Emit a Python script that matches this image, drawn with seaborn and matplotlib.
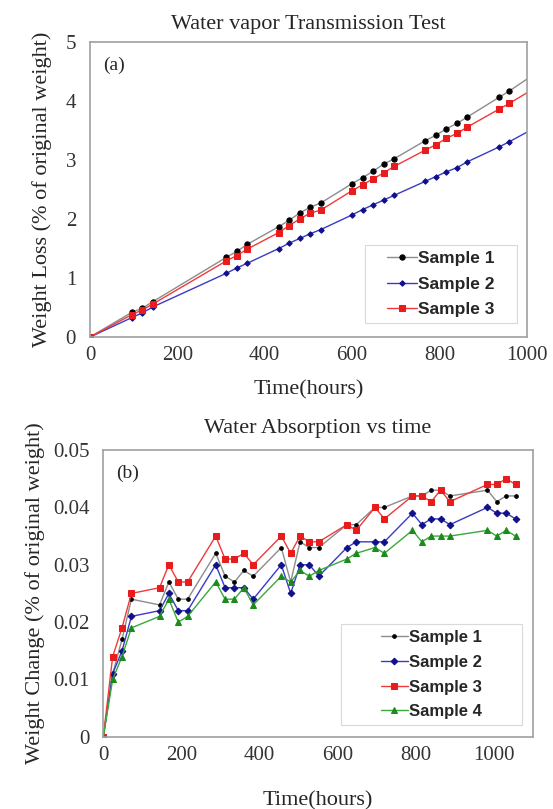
import pandas as pd
import matplotlib.pyplot as plt
import seaborn as sns

# (a) water vapour transmission, weight loss (% of original weight)
hours_a = [0, 96, 120, 144, 312, 336, 360, 432, 456, 480, 504, 528,
           600, 624, 648, 672, 696, 768, 792, 816, 840, 864, 936, 960, 1032]
loss_s1 = [0, 0.42, 0.49, 0.60, 1.35, 1.45, 1.57, 1.87, 1.98, 2.10, 2.20, 2.27,
           2.60, 2.70, 2.81, 2.93, 3.02, 3.33, 3.42, 3.53, 3.62, 3.73, 4.06, 4.17, 4.53]
loss_s2 = [0, 0.33, 0.41, 0.51, 1.08, 1.17, 1.25, 1.50, 1.59, 1.67, 1.75, 1.82,
           2.07, 2.16, 2.24, 2.32, 2.40, 2.64, 2.72, 2.80, 2.87, 2.97, 3.22, 3.31, 3.60]
loss_s3 = [0, 0.38, 0.46, 0.56, 1.29, 1.38, 1.49, 1.77, 1.89, 2.00, 2.10, 2.15,
           2.48, 2.58, 2.68, 2.78, 2.89, 3.17, 3.26, 3.37, 3.45, 3.56, 3.86, 3.96, 4.28]

# (b) water absorption, weight change (% of original weight)
hours_b = [0, 24, 48, 72, 144, 168, 192, 216, 288, 312, 336, 360, 384, 456, 480,
           504, 528, 552, 624, 648, 696, 720, 792, 816, 840, 864, 888, 984, 1008, 1032, 1056]
abs_s1 = [0, 0.011, 0.017, 0.024, 0.023, 0.027, 0.024, 0.024, 0.032, 0.028, 0.027,
          0.029, 0.028, 0.033, 0.027, 0.034, 0.033, 0.033, 0.037, 0.037, 0.040, 0.040,
          0.042, 0.042, 0.043, 0.043, 0.042, 0.043, 0.041, 0.042, 0.042]
abs_s2 = [0, 0.011, 0.015, 0.021, 0.022, 0.025, 0.022, 0.022, 0.030, 0.026, 0.026,
          0.026, 0.024, 0.030, 0.025, 0.030, 0.030, 0.028, 0.033, 0.034, 0.034, 0.034,
          0.039, 0.037, 0.038, 0.038, 0.037, 0.040, 0.039, 0.039, 0.038]
abs_s3 = [0, 0.014, 0.019, 0.025, 0.026, 0.030, 0.027, 0.027, 0.035, 0.031, 0.031,
          0.032, 0.030, 0.035, 0.032, 0.035, 0.034, 0.034, 0.037, 0.036, 0.040, 0.038,
          0.042, 0.042, 0.041, 0.043, 0.041, 0.044, 0.044, 0.045, 0.044]
abs_s4 = [0, 0.010, 0.014, 0.019, 0.021, 0.024, 0.020, 0.021, 0.027, 0.024, 0.024,
          0.026, 0.023, 0.028, 0.027, 0.029, 0.028, 0.029, 0.031, 0.032, 0.033, 0.032,
          0.036, 0.034, 0.035, 0.035, 0.035, 0.036, 0.035, 0.036, 0.035]

sns.set_style("white")
plt.rcParams["font.family"] = ["Liberation Serif", "DejaVu Serif"]

fig = plt.figure(figsize=(5.53, 8.09), dpi=100)
ax1 = fig.add_axes([0.1627, 0.5834, 0.790, 0.3647])
ax2 = fig.add_axes([0.1868, 0.0892, 0.7765, 0.3545])

# styles: (label, values, line colour, marker, marker colour, marker size)
styles_a = [("Sample 1", loss_s1, "#8c8c8c", "o", "black", 3.8),
            ("Sample 2", loss_s2, "#3a3ac8", "D", "#10108a", 2.8),
            ("Sample 3", loss_s3, "#f03a3a", "s", "#e81c1c", 3.8)]
for label, vals, lc, mk, mc, ms in styles_a:
    sns.lineplot(x=hours_a, y=vals, ax=ax1, color=lc, lw=1.0, marker=mk,
                 markersize=ms, markerfacecolor=mc, markeredgecolor=mc,
                 label=label)

styles_b = [("Sample 1", abs_s1, "#8c8c8c", "o", "black", 2.6),
            ("Sample 2", abs_s2, "#3a3ac8", "D", "#10108a", 3.4),
            ("Sample 3", abs_s3, "#f03a3a", "s", "#e81c1c", 4.3),
            ("Sample 4", abs_s4, "#3aa83a", "^", "#1d8a1d", 4.0)]
for label, vals, lc, mk, mc, ms in styles_b:
    sns.lineplot(x=hours_b, y=vals, ax=ax2, color=lc, lw=1.0, marker=mk,
                 markersize=ms, markerfacecolor=mc, markeredgecolor=mc,
                 label=label)

# axes (a)
ax1.set_xlim(0, 1000)
ax1.set_ylim(0, 5)
ax1.set_xticks([0, 200, 400, 600, 800, 1000])
ax1.set_yticks([0, 1, 2, 3, 4, 5])
ax1.set_title("Water vapor Transmission Test", fontsize=16, pad=9)
ax1.set_xlabel("Time(hours)", fontsize=16, labelpad=11)
ax1.set_ylabel("Weight Loss (% of original weight)", fontsize=16, labelpad=10)
ax1.text(0.03, 0.95, "(a)", transform=ax1.transAxes, fontsize=14, va="top")
leg1 = ax1.legend(loc="lower right", bbox_to_anchor=(0.9405, 0.0475),
                  prop={"family": "Liberation Sans", "weight": "bold", "size": 12.5},
                  frameon=True, fancybox=False, handlelength=1.7, handletextpad=0.1,
                  borderaxespad=0, labelspacing=0.58, borderpad=0.35)
leg1.get_frame().set_boxstyle("square", pad=0.92)
leg1.get_frame().set_mutation_aspect(0.01)

# axes (b)
ax2.set_xlim(0, 1100)
ax2.set_ylim(0, 0.05)
ax2.set_xticks([0, 200, 400, 600, 800, 1000])
ax2.set_yticks([0, 0.01, 0.02, 0.03, 0.04, 0.05])
ax2.set_yticklabels(["0", "0.01", "0.02", "0.03", "0.04", "0.05"])
ax2.set_title("Water Absorption vs time", fontsize=16, pad=12)
ax2.set_xlabel("Time(hours)", fontsize=16, labelpad=19)
ax2.set_ylabel("Weight Change (% of original weight)", fontsize=16, labelpad=6)
ax2.text(0.03, 0.95, "(b)", transform=ax2.transAxes, fontsize=14, va="top")
leg2 = ax2.legend(loc="lower right", bbox_to_anchor=(0.896, 0.041),
                  prop={"family": "Liberation Sans", "weight": "bold", "size": 12},
                  frameon=True, fancybox=False, handlelength=1.6, handletextpad=0.1,
                  borderaxespad=0, labelspacing=0.58, borderpad=0.35)
leg2.get_frame().set_boxstyle("square", pad=2.04)
leg2.get_frame().set_mutation_aspect(0.01)

for ax, leg in [(ax1, leg1), (ax2, leg2)]:
    for s in ax.spines.values():
        s.set_color("#a0a0a0")
        s.set_linewidth(1.2)
    ax.tick_params(axis="both", labelsize=15, colors="#333333", length=3,
                   width=0.8, direction="out")
    ax.tick_params(axis="both", color="#a0a0a0")
    ax.tick_params(axis="y", pad=7)
    leg.get_frame().set_edgecolor("#d0d0d0")
    leg.get_frame().set_linewidth(0.8)

fig.savefig("out.png", dpi=100)
